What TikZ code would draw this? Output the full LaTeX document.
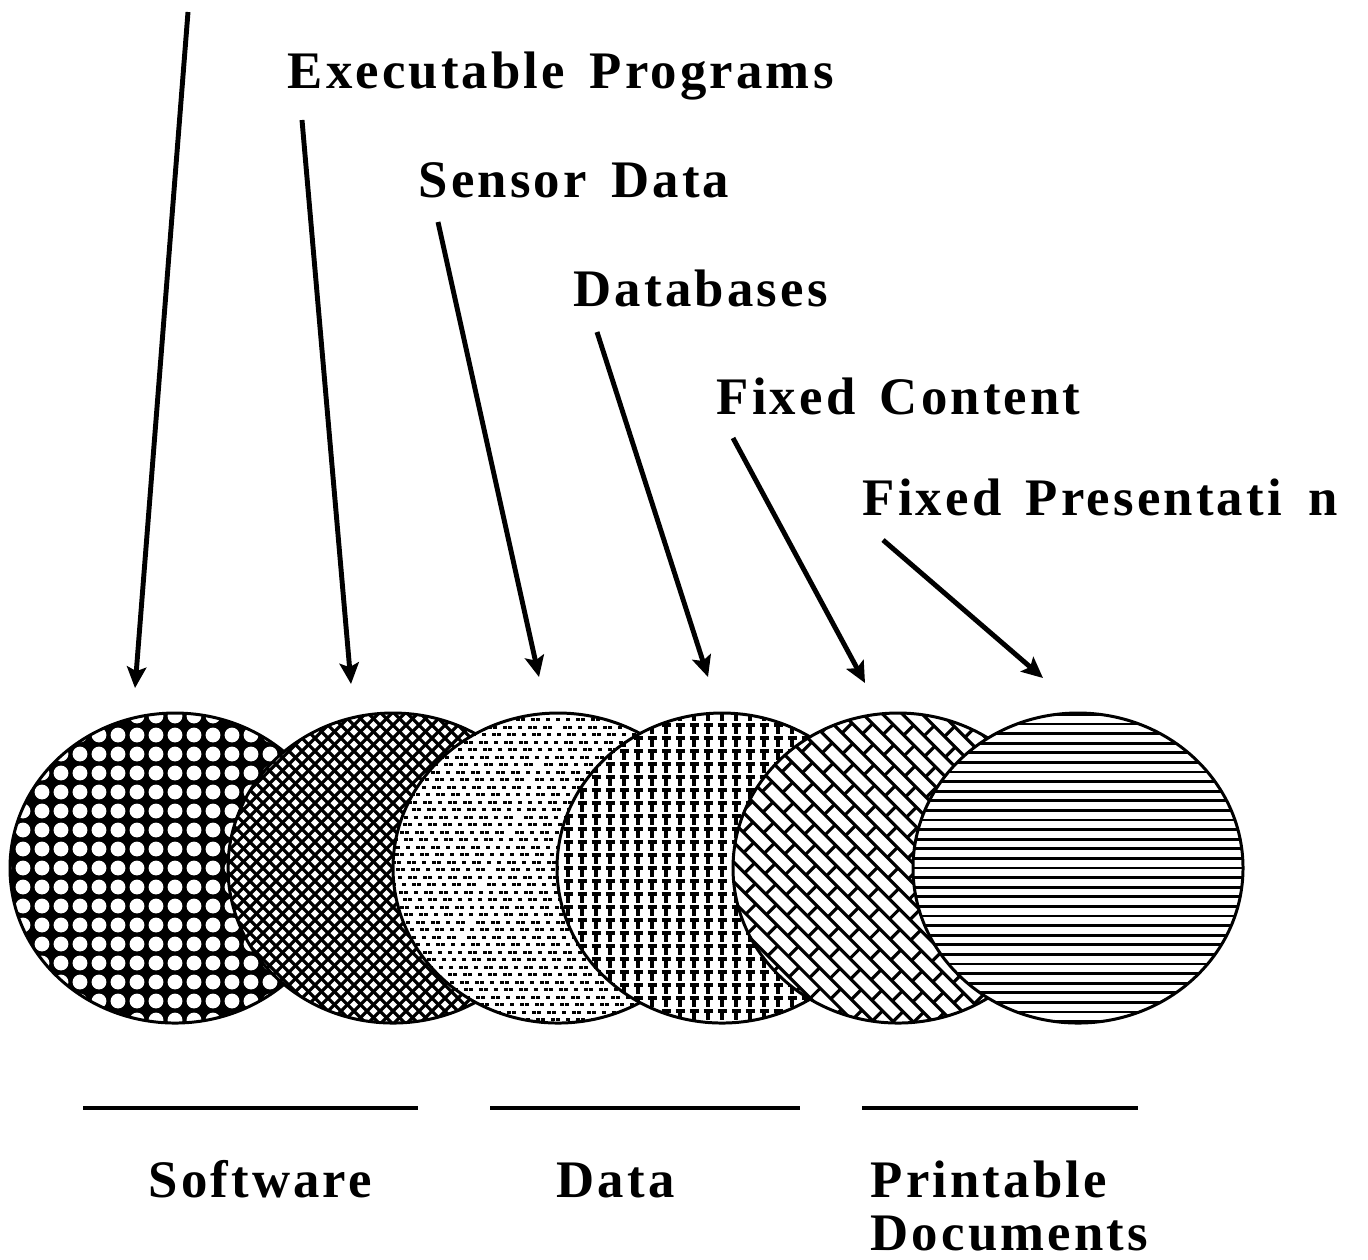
\documentclass[tikz,border=0pt]{standalone}
\usepackage{fontspec}
\setmainfont{Liberation Serif}
\newfontfamily\lblfont[LetterSpace=6,WordSpace=1.5]{Liberation Serif}
\usetikzlibrary{arrows.meta}
\tikzset{pointer/.style={
  line width=1.4pt,
  -{Stealth[length=6pt,width=5.5pt,inset=1.2pt]}}}
\tikzset{lbl/.style={
  anchor=base west,
  inner sep=0pt,
  font=\lblfont\bfseries\fontsize{15}{18}\selectfont}}
\tikzset{rim/.style={
  line width=.85pt}}
\tikzset{hatch/.style={
  line width=.9pt}}
\tikzset{bar/.style={
  line width=1.3pt}}

\begin{document}
\begin{tikzpicture}[x=.01cm,y=-.01cm]
  \useasboundingbox (0,0) rectangle (1368,1259);

  %%%% Labels on top %%%%
  \node[lbl] (exec) at (287,88) {Executable Programs};
  \node[lbl] (sensor) at (418,197) {Sensor Data};
  \node[lbl] (dbase) at (573,306) {Databases};
  \node[lbl] (fixcont) at (716,414) {Fixed Content};
  \node[lbl] (fixpres) at (862,515) {Fixed Presentati\hphantom{o}n};

  %%%% Circle centres %%%%
  \foreach \n/\x in {1/175,2/393,3/558,4/722,5/898,6/1078}{
    \coordinate (c\n) at (\x,868);
  }

  %% Circle 1: white dots on black
  \begin{scope}[shift={(c1)}]
    \begin{scope}
      \clip (0,0) ellipse [x radius=165,y radius=155];
      \fill (0,0) ellipse [x radius=165,y radius=155];
      \foreach \i in {-9,...,9}
        \foreach \j in {-9,...,9}
          \fill[white] (\i*19,\j*19) circle (7.4);
    \end{scope}
    \draw[rim] (0,0) ellipse [x radius=165,y radius=155];
  \end{scope}

  %% Circle 2: cross hatch
  \begin{scope}[shift={(c2)}]
    \begin{scope}
      \clip (0,0) ellipse [x radius=165,y radius=155];
      \fill[white] (0,0) ellipse [x radius=165,y radius=155];
      \foreach \k in {-18,...,18}{
        \draw[hatch] (\k*13-200,-200) -- (\k*13+200,200);
        \draw[hatch] (\k*13-200,200) -- (\k*13+200,-200);
      }
    \end{scope}
    \draw[rim] (0,0) ellipse [x radius=165,y radius=155];
  \end{scope}

  %% Circle 3: stipple
  \begin{scope}[shift={(c3)}]
    \begin{scope}
      \clip (0,0) ellipse [x radius=165,y radius=155];
      \fill[white] (0,0) ellipse [x radius=165,y radius=155];
      \foreach \i in {-21,...,21}
        \foreach \j in {-21,...,21}{
          \pgfmathsetmacro\dx{\i*8+4*mod(\j+40,2)+mod(\i*7+\j*3+60,5)-2}
          \fill (\dx,\j*7.5) rectangle ++(4,3);
        }
    \end{scope}
    \draw[rim] (0,0) ellipse [x radius=165,y radius=155];
  \end{scope}

  %% Circle 4: rows of T's
  \begin{scope}[shift={(c4)}]
    \begin{scope}
      \clip (0,0) ellipse [x radius=165,y radius=155];
      \fill[white] (0,0) ellipse [x radius=165,y radius=155];
      \foreach \i in {-12,...,12}
        \foreach \j in {-13,...,13}
          \draw[line width=1.1pt] (\i*14-4.5,\j*13) -- (\i*14+4.5,\j*13)
            (\i*14,\j*13) -- (\i*14,\j*13+8.5);
    \end{scope}
    \draw[rim] (0,0) ellipse [x radius=165,y radius=155];
  \end{scope}

  %% Circle 5: diagonal bricks
  \begin{scope}[shift={(c5)}]
    \begin{scope}
      \clip (0,0) ellipse [x radius=165,y radius=155];
      \fill[white] (0,0) ellipse [x radius=165,y radius=155];
      \begin{scope}[rotate=-45]
        \foreach \k in {-17,...,17}
          \draw[hatch] (-240,\k*14) -- (240,\k*14);
        \foreach \k in {-17,...,16}{
          \pgfmathsetmacro\off{15*mod(\k+40,2)}
          \foreach \j in {-9,...,9}
            \draw[hatch] (\j*30+\off,\k*14) -- (\j*30+\off,\k*14+14);
        }
      \end{scope}
    \end{scope}
    \draw[rim] (0,0) ellipse [x radius=165,y radius=155];
  \end{scope}

  %% Circle 6: horizontal lines
  \begin{scope}[shift={(c6)}]
    \begin{scope}
      \clip (0,0) ellipse [x radius=165,y radius=155];
      \fill[white] (0,0) ellipse [x radius=165,y radius=155];
      \foreach \k in {-16,...,16}
        \draw[line width=.8pt] (-170,\k*9.6) -- (170,\k*9.6);
    \end{scope}
    \draw[rim] (0,0) ellipse [x radius=165,y radius=155];
  \end{scope}

  %%%% Arrows %%%%
  \foreach \n/\a/\b/\c/\d in {1/188/12/135/688,2/302/120/351/684,
      3/438/222/539/677,4/597/332/708/677,5/733/438/865/683,6/883/540/1043/678}{
    \coordinate (tail\n) at (\a,\b);
    \coordinate (tip\n) at (\c,\d);
    \draw[pointer] (tail\n) -- (tip\n);
  }

  %%%% Groups at the bottom %%%%
  \draw[bar] (83,1108) -- (418,1108);
  \draw[bar] (490,1108) -- (800,1108);
  \draw[bar] (862,1108) -- (1138,1108);
  \node[lbl] (soft) at (148,1197) {Software};
  \node[lbl] (data) at (556,1197) {Data};
  \node[lbl] (print) at (870,1197) {Printable};
  \node[lbl] (docs) at (870,1250) {Documents};

\end{tikzpicture}
\end{document}
